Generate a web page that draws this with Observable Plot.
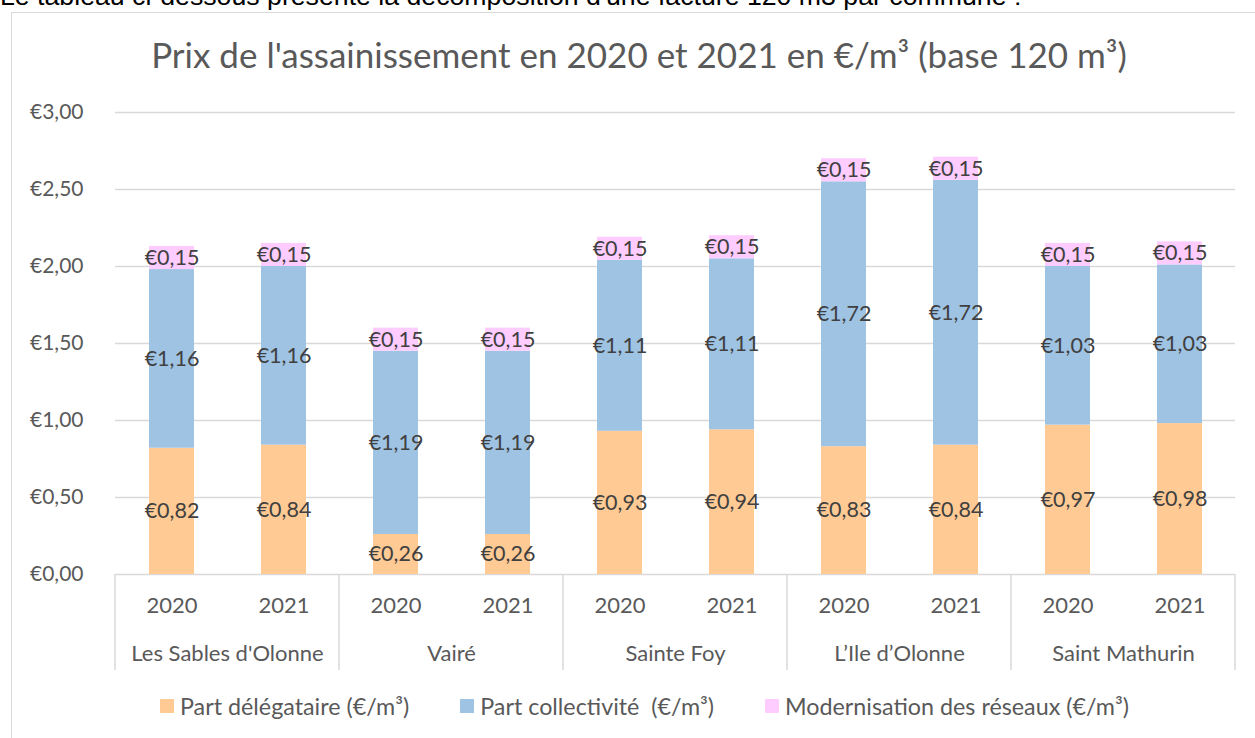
<!DOCTYPE html>
<html>
<head>
<meta charset="utf-8">
<script src="https://cdn.jsdelivr.net/npm/d3@7"></script>
<script src="https://cdn.jsdelivr.net/npm/@observablehq/plot@0.6"></script>
<style>
  html, body { margin: 0; padding: 0; background: #fff; width: 1255px; height: 738px; overflow: hidden; }
  #page { position: relative; width: 1255px; height: 738px; }
  #intro { position: absolute; left: 0; top: -19px; font: 26.7px "Liberation Sans", Arial, sans-serif; color: #000; white-space: nowrap; }
  #box { position: absolute; left: 11px; top: 12px; width: 1300px; height: 800px; border: 1.5px solid #d9d9d9; box-sizing: border-box; }
  #title { position: absolute; left: 639px; top: 33px; transform: translateX(-50%); font: 35px Lato, "Open Sans", sans-serif; color: #595959; white-space: nowrap; }
  #chart { position: absolute; left: 0; top: 0; }
  #legend { position: absolute; left: 160px; top: 692px; display: flex; gap: 51px; font: 23.3px Lato, sans-serif; color: #595959; white-space: pre; }
  #legend .item { display: flex; align-items: center; gap: 6px; }
  #legend .sw { width: 14px; height: 14px; display: inline-block; }
</style>
</head>
<body>
<div id="page">
  <div id="intro">Le tableau ci-dessous présente la décomposition d'une facture 120 m3 par commune :</div>
  <div id="box"></div>
  <div id="title">Prix de l'assainissement en 2020 et 2021 en €/m³ (base 120 m³)</div>
  <div id="chart"></div>
  <div id="legend"></div>
</div>
<script>
const communes = ["Les Sables d'Olonne", "Vairé", "Sainte Foy", "L’Ile d’Olonne", "Saint Mathurin"];
const years = ["2020", "2021"];
const series = ["Part délégataire (€/m³)", "Part collectivité  (€/m³)", "Modernisation des réseaux (€/m³)"];
const colors = ["#FFCA94", "#9FC3E3", "#FFCCFF"];
// values in order: commune × year
const delegataire   = [0.82, 0.84, 0.26, 0.26, 0.93, 0.94, 0.83, 0.84, 0.97, 0.98];
const collectivite  = [1.16, 1.16, 1.19, 1.19, 1.11, 1.11, 1.72, 1.72, 1.03, 1.03];
const modernisation = [0.15, 0.15, 0.15, 0.15, 0.15, 0.15, 0.15, 0.15, 0.15, 0.15];
const yTicks = [0, 0.5, 1, 1.5, 2, 2.5, 3];

const fmt = v => "€" + v.toFixed(2).replace(".", ",");

const seriesValues = [delegataire, collectivite, modernisation];
const data = [];
seriesValues.forEach((vals, s) => {
  communes.forEach((c, ci) => {
    years.forEach((yr, yi) => {
      data.push({commune: c, year: yr, series: series[s], value: vals[ci * years.length + yi]});
    });
  });
});

const chart = Plot.plot({
  width: 1255,
  height: 690,
  marginLeft: 113,
  marginRight: 18,
  marginTop: 112,
  marginBottom: 116,
  style: {fontFamily: "Lato, sans-serif", fontSize: "22px", color: "#595959", background: "transparent", overflow: "visible"},
  fx: {domain: communes, padding: 0, label: null, axis: "bottom", tickSize: 0, tickPadding: 71},
  x: {domain: years, paddingInner: 0.6, paddingOuter: 0.3, label: null, axis: "bottom", tickSize: 0, tickPadding: 23},
  y: {domain: [0, 3], label: null, axis: null},
  color: {domain: series, range: colors},
  marks: [
    Plot.ruleY(yTicks, {stroke: "#d9d9d9", strokeWidth: 1.5}),
    Plot.axisY({ticks: yTicks, tickSize: 0, tickPadding: 32, tickFormat: fmt, label: null, fontSize: 21}),
    Plot.barY(data, Plot.stackY({fx: "commune", x: "year", y: "value", z: "series", fill: "series"})),
    Plot.text(data, Plot.stackY({fx: "commune", x: "year", y: "value", z: "series",
      text: d => fmt(d.value), fill: "#404040", fontSize: 21.5}))
  ]
});
document.getElementById("chart").appendChild(chart);

// group separators below the axis, positioned from the fx and y scales
const fxS = chart.scale("fx");
const yS = chart.scale("y");
const y0 = yS.apply(0);
const edges = communes.map(c => fxS.apply(c)).concat([fxS.apply(communes[communes.length - 1]) + fxS.bandwidth]);
d3.select(chart).append("g")
  .selectAll("line").data(edges).join("line")
  .attr("x1", d => d).attr("x2", d => d)
  .attr("y1", y0).attr("y2", y0 + 96)
  .attr("stroke", "#d9d9d9").attr("stroke-width", 1.5);

// legend
const legend = d3.select("#legend");
series.forEach((s, i) => {
  const it = legend.append("div").attr("class", "item");
  it.append("span").attr("class", "sw").style("background", colors[i]);
  it.append("span").text(s);
});
</script>
</body>
</html>
